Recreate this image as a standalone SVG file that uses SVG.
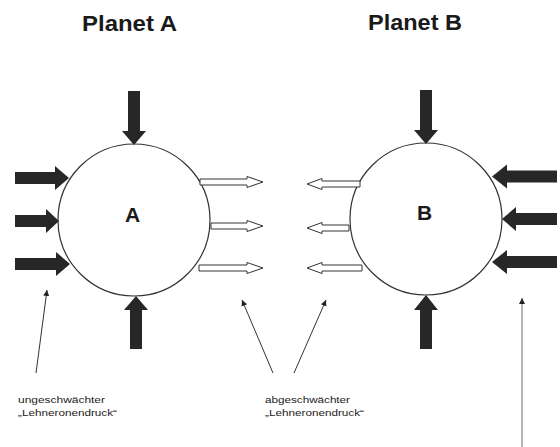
<svg xmlns="http://www.w3.org/2000/svg" width="560" height="447" viewBox="0 0 560 447">
<style>
.title{font-family:"Liberation Sans",Arial,sans-serif;font-weight:bold;font-size:22px;fill:#1a1a1a}
.planet{fill:#fff;stroke:#333;stroke-width:1.2}
.plabel{font-family:"Liberation Sans",Arial,sans-serif;font-weight:bold;font-size:21px;fill:#1a1a1a;text-anchor:middle}
.force{fill:#272727;stroke:none}
.weak{fill:#fff;stroke:#333;stroke-width:1}
.ptr{stroke:#333;stroke-width:1;fill:none;marker-end:url(#tip)}
.ptr2{stroke:#888;stroke-width:1.2;fill:none;marker-end:url(#tip)}
.note{font-family:"Liberation Sans",Arial,sans-serif;font-size:9.5px;fill:#222}
</style>
<defs>
<marker id="tip" markerUnits="userSpaceOnUse" markerWidth="8" markerHeight="8" refX="6" refY="3" orient="auto">
<path d="M0,0 L6,3 L0,6 Z" fill="#222"/>
</marker>
</defs>
<rect width="560" height="447" fill="#fff"/>
<text class="title" x="82" y="31" textLength="95" lengthAdjust="spacingAndGlyphs">Planet A</text>
<text class="title" x="368" y="30" textLength="94" lengthAdjust="spacingAndGlyphs">Planet B</text>
<g id="planetA">
<circle class="planet" cx="134" cy="220" r="76"/>
<text class="plabel" x="132.5" y="222">A</text>
</g>
<g id="planetB">
<circle class="planet" cx="426" cy="219" r="76"/>
<text class="plabel" x="424.5" y="220">B</text>
</g>
<g id="forcesA">
<path class="force" d="M15,172 H55 V166 L69,178 L55,190 V184 H15 Z"/>
<path class="force" d="M15,215 H46 V209 L59,221 L46,233 V227 H15 Z"/>
<path class="force" d="M15,258 H56 V252 L70,264 L56,276 V270 H15 Z"/>
<path class="force" d="M128,91 H140 V131 H146 L134,145 L122,131 H128 Z"/>
<path class="force" d="M136,296 L148,310 H142 V349 H130 V310 H124 Z"/>
<path class="weak" d="M200,179 H247 V176.5 L263,182 L247,187.5 V185 H200 Z"/>
<path class="weak" d="M211,223 H247 V220.5 L263,226 L247,231.5 V229 H211 Z"/>
<path class="weak" d="M199,265 H247 V262.5 L263,268 L247,273.5 V271 H199 Z"/>
</g>
<g id="forcesB">
<path class="force" d="M557,170.5 H507 V164.5 L492,176.5 L507,188.5 V182.5 H557 Z"/>
<path class="force" d="M557,213 H516 V207 L502,219 L516,231 V225 H557 Z"/>
<path class="force" d="M557,256 H507 V250 L492,262 L507,274 V268 H557 Z"/>
<path class="force" d="M420,90 H432 V130 H438 L426,144 L414,130 H420 Z"/>
<path class="force" d="M426,295 L438,310 H432 V349 H420 V310 H414 Z"/>
<path class="weak" d="M360,181 H322 V178.5 L307,184 L322,189.5 V187 H360 Z"/>
<path class="weak" d="M349,225 H322 V222.5 L307,228 L322,233.5 V231 H349 Z"/>
<path class="weak" d="M362,265 H322 V262.5 L307,268 L322,273.5 V271 H362 Z"/>
</g>
<g id="connectors">
<line class="ptr" x1="36" y1="373" x2="47" y2="290"/>
<line class="ptr" x1="273" y1="373" x2="242" y2="300"/>
<line class="ptr" x1="294" y1="373" x2="326" y2="300"/>
<line class="ptr2" x1="522" y1="447" x2="522" y2="298"/>
</g>
<g id="label-unweakened">
<text class="note" x="18" y="403" textLength="87" lengthAdjust="spacingAndGlyphs">ungeschwächter</text>
<text class="note" x="18" y="416" textLength="99" lengthAdjust="spacingAndGlyphs">„Lehneronendruck“</text>
</g>
<g id="label-weakened">
<text class="note" x="265" y="403" textLength="85" lengthAdjust="spacingAndGlyphs">abgeschwächter</text>
<text class="note" x="265" y="416" textLength="99" lengthAdjust="spacingAndGlyphs">„Lehneronendruck“</text>
</g>
</svg>
